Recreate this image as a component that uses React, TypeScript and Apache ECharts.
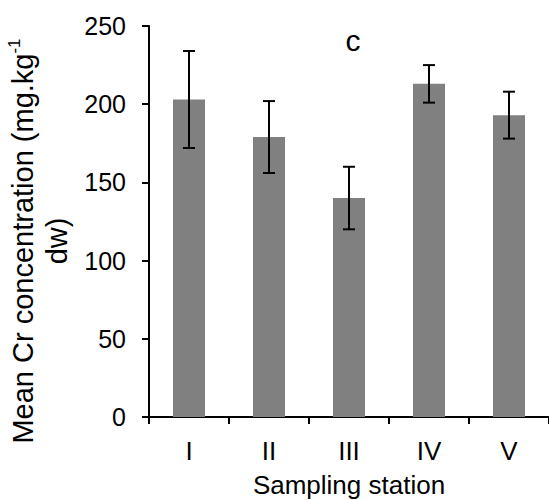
import React, { useEffect, useRef } from "react";
import * as echarts from "echarts";

const categories = ["I", "II", "III", "IV", "V"];
const means = [203, 179, 140, 213, 193];
const errors = [31, 23, 20, 12, 15];
const yTicks = { min: 0, max: 250, interval: 50 };

const FONT = "'Liberation Sans', Arial, sans-serif";

export default function App() {
  const ref = useRef<HTMLDivElement>(null);
  useEffect(() => {
    if (!ref.current) return;
    const chart = echarts.init(ref.current, null, { renderer: "svg" });
    const errData = categories.map((_, i) => [i, means[i] - errors[i], means[i] + errors[i]]);
    chart.setOption({
      animation: false,
      textStyle: { fontFamily: FONT, color: "#000" },
      grid: { left: 149, right: 0, top: 26, bottom: 83, containLabel: false, outerBoundsMode: "none" },
      xAxis: {
        type: "category",
        data: categories,
        name: "Sampling station",
        nameLocation: "middle",
        nameGap: 55,
        nameTextStyle: { fontFamily: FONT, fontSize: 26, lineHeight: 26, color: "#000" },
        axisLine: { lineStyle: { color: "#000", width: 2 } },
        axisTick: { show: true, length: 7, lineStyle: { color: "#000", width: 2 } },
        axisLabel: { fontFamily: FONT, fontSize: 26, color: "#000", margin: 21 },
      },
      yAxis: {
        type: "value",
        min: yTicks.min,
        max: yTicks.max,
        interval: yTicks.interval,
        splitLine: { show: false },
        axisLine: { show: true, lineStyle: { color: "#000", width: 2 } },
        axisTick: { show: true, length: 7, lineStyle: { color: "#000", width: 2 } },
        axisLabel: { fontFamily: FONT, fontSize: 25, color: "#000", margin: 23 },
      },
      graphic: [
        {
          type: "text",
          x: 353,
          y: 40,
          style: {
            text: "c",
            fontFamily: FONT,
            fontSize: 30,
            fill: "#000",
            align: "center",
            verticalAlign: "middle",
          },
        },
        {
          type: "text",
          x: 40,
          y: 241,
          rotation: Math.PI / 2,
          style: {
            text: "Mean Cr concentration (mg.kg{sup|-1}\ndw)",
            fontFamily: FONT,
            fontSize: 29,
            lineHeight: 34,
            fill: "#000",
            align: "center",
            verticalAlign: "middle",
            rich: {
              sup: { fontFamily: FONT, fontSize: 17, lineHeight: 17, verticalAlign: "top", fill: "#000" },
            },
          },
        },
      ],
      series: [
        {
          type: "bar",
          data: means,
          barWidth: 32,
          itemStyle: { color: "#808080" },
        },
        {
          type: "custom",
          data: errData,
          z: 10,
          renderItem: (params: any, api: any) => {
            const idx = api.value(0);
            const lo = api.coord([idx, api.value(1)]);
            const hi = api.coord([idx, api.value(2)]);
            const hw = 6;
            const style = { stroke: "#000", lineWidth: 2 };
            return {
              type: "group",
              children: [
                { type: "line", shape: { x1: lo[0], y1: lo[1], x2: hi[0], y2: hi[1] }, style },
                { type: "line", shape: { x1: hi[0] - hw, y1: hi[1], x2: hi[0] + hw, y2: hi[1] }, style },
                { type: "line", shape: { x1: lo[0] - hw, y1: lo[1], x2: lo[0] + hw, y2: lo[1] }, style },
              ],
            };
          },
        },
      ],
    });
    return () => chart.dispose();
  }, []);
  return (
    <div
      ref={ref}
      style={{ position: "absolute", left: 0, top: 0, width: 549, height: 500, background: "#fff" }}
    />
  );
}
